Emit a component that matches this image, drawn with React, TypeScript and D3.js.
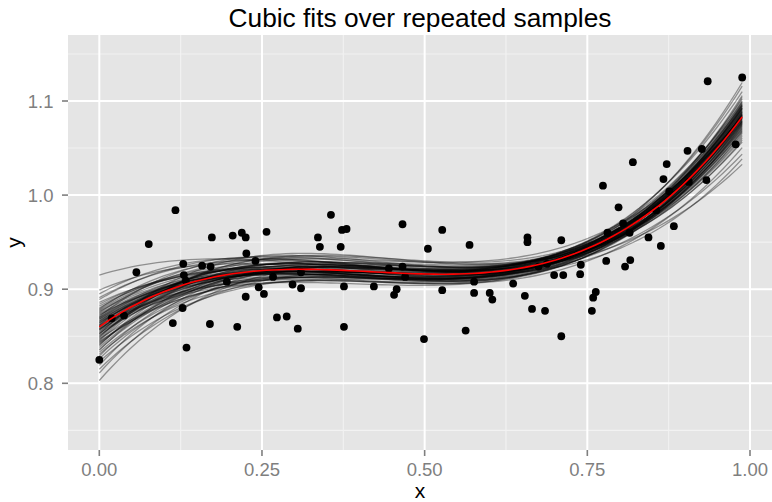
import React from "react";
import * as d3 from "d3";

// observed sample
const pointX = [0.000, 0.019, 0.038, 0.057, 0.076, 0.113, 0.117, 0.128, 0.129, 0.130, 0.133, 0.134, 0.158, 0.170, 0.171, 0.173, 0.196, 0.205, 0.212, 0.219, 0.225, 0.225, 0.226, 0.240, 0.245, 0.253, 0.257, 0.267, 0.273, 0.288, 0.297, 0.305, 0.310, 0.310, 0.336, 0.339, 0.356, 0.371, 0.373, 0.380, 0.376, 0.376, 0.422, 0.445, 0.453, 0.457, 0.466, 0.466, 0.470, 0.499, 0.505, 0.527, 0.527, 0.563, 0.569, 0.576, 0.576, 0.600, 0.604, 0.636, 0.654, 0.658, 0.658, 0.665, 0.675, 0.685, 0.688, 0.699, 0.710, 0.710, 0.713, 0.739, 0.740, 0.757, 0.759, 0.763, 0.774, 0.779, 0.781, 0.798, 0.805, 0.808, 0.815, 0.816, 0.820, 0.844, 0.856, 0.863, 0.867, 0.872, 0.876, 0.883, 0.904, 0.906, 0.926, 0.933, 0.935, 0.978, 0.988];
const pointY = [0.825, 0.869, 0.872, 0.918, 0.948, 0.864, 0.984, 0.880, 0.927, 0.915, 0.909, 0.838, 0.925, 0.863, 0.924, 0.955, 0.908, 0.957, 0.860, 0.960, 0.892, 0.955, 0.938, 0.930, 0.902, 0.895, 0.961, 0.913, 0.870, 0.871, 0.905, 0.858, 0.901, 0.918, 0.955, 0.945, 0.979, 0.945, 0.963, 0.964, 0.903, 0.860, 0.903, 0.922, 0.894, 0.900, 0.969, 0.924, 0.913, 0.847, 0.943, 0.899, 0.963, 0.856, 0.947, 0.908, 0.896, 0.896, 0.889, 0.906, 0.893, 0.955, 0.950, 0.879, 0.924, 0.877, 0.927, 0.915, 0.952, 0.850, 0.915, 0.916, 0.926, 0.877, 0.891, 0.897, 1.010, 0.930, 0.960, 0.987, 0.970, 0.924, 0.960, 0.931, 1.035, 0.955, 0.984, 0.946, 1.017, 1.033, 1.004, 0.967, 1.047, 1.014, 1.049, 1.016, 1.121, 1.054, 1.125];

// cubic curves, read at x = 0, 0.33, 0.66, 0.99
const knotX = [0, 0.33, 0.66, 0.99];
const redAt = [0.860, 0.921, 0.924, 1.085];
const fitAt000 = [0.842, 0.871, 0.855, 0.880, 0.833, 0.864, 0.851, 0.889, 0.847, 0.868, 0.826, 0.859, 0.874, 0.838, 0.862, 0.895, 0.853, 0.866, 0.811, 0.857, 0.878, 0.845, 0.869, 0.836, 0.861, 0.884, 0.849, 0.872, 0.829, 0.858, 0.915, 0.865, 0.843, 0.876, 0.852, 0.803, 0.867, 0.856, 0.882, 0.840, 0.863, 0.848, 0.873, 0.819, 0.860, 0.886, 0.854, 0.870, 0.835, 0.858, 0.899, 0.846, 0.864, 0.877, 0.831, 0.861, 0.850, 0.868, 0.841, 0.875, 0.857, 0.891, 0.823, 0.866, 0.853, 0.879, 0.844, 0.862, 0.815, 0.870];
const fitAt033 = [0.916, 0.935, 0.919, 0.926, 0.913, 0.923, 0.918, 0.933, 0.909, 0.921, 0.915, 0.927, 0.916, 0.924, 0.919, 0.930, 0.913, 0.919, 0.926, 0.907, 0.921, 0.929, 0.918, 0.923, 0.910, 0.921, 0.935, 0.916, 0.924, 0.919, 0.926, 0.912, 0.921, 0.918, 0.938, 0.923, 0.915, 0.927, 0.919, 0.929, 0.921, 0.932, 0.916, 0.924, 0.912, 0.921, 0.929, 0.918, 0.926, 0.913, 0.923, 0.936, 0.916, 0.924, 0.909, 0.919, 0.926, 0.915, 0.921, 0.933, 0.918, 0.929, 0.910, 0.923, 0.919, 0.930, 0.913, 0.927, 0.916, 0.924];
const fitAt066 = [0.922, 0.928, 0.922, 0.929, 0.916, 0.925, 0.929, 0.929, 0.918, 0.922, 0.921, 0.923, 0.921, 0.923, 0.927, 0.929, 0.921, 0.920, 0.929, 0.916, 0.917, 0.927, 0.923, 0.928, 0.913, 0.924, 0.930, 0.923, 0.925, 0.924, 0.922, 0.917, 0.930, 0.922, 0.931, 0.929, 0.920, 0.928, 0.916, 0.926, 0.927, 0.929, 0.923, 0.922, 0.919, 0.930, 0.930, 0.919, 0.926, 0.922, 0.920, 0.933, 0.919, 0.929, 0.915, 0.924, 0.929, 0.916, 0.923, 0.936, 0.922, 0.926, 0.920, 0.924, 0.924, 0.925, 0.923, 0.928, 0.919, 0.927];
const fitAt099 = [1.079, 1.092, 1.071, 1.098, 1.086, 1.064, 1.101, 1.083, 1.075, 1.090, 1.108, 1.081, 1.094, 1.068, 1.087, 1.112, 1.078, 1.096, 1.060, 1.085, 1.089, 1.073, 1.099, 1.082, 1.052, 1.091, 1.077, 1.104, 1.084, 1.066, 1.058, 1.093, 1.080, 1.087, 1.097, 1.070, 1.088, 1.118, 1.076, 1.095, 1.083, 1.102, 1.072, 1.089, 1.045, 1.086, 1.093, 1.079, 1.106, 1.084, 1.074, 1.090, 1.097, 1.081, 1.088, 1.062, 1.095, 1.077, 1.100, 1.086, 1.122, 1.080, 1.091, 1.034, 1.085, 1.098, 1.069, 1.087, 1.040, 1.094];

const xTicks = [0, 0.25, 0.5, 0.75, 1.0];
const xTickLabels = ["0.00", "0.25", "0.50", "0.75", "1.00"];
const xMinor = [0.125, 0.375, 0.625, 0.875];
const yTicks = [0.8, 0.9, 1.0, 1.1];
const yTickLabels = ["0.8", "0.9", "1.0", "1.1"];
const yMinor = [0.75, 0.85, 0.95, 1.05, 1.15];

const W = 772, H = 502;
const P = { left: 68, right: 772, top: 35, bottom: 450 };

function lagrange(kx: number[], ky: number[], x: number) {
  let s = 0;
  for (let i = 0; i < kx.length; i++) {
    let t = ky[i];
    for (let j = 0; j < kx.length; j++) if (j !== i) t *= (x - kx[j]) / (kx[i] - kx[j]);
    s += t;
  }
  return s;
}

export default function App() {
  const x = d3.scaleLinear().domain([0, 1]).range([99.3, 750]);
  const y = d3.scaleLinear().domain([0.8, 1.1]).range([383.3, 101]);
  const xMax = d3.max(pointX) as number;
  const grid = d3.range(0, 101).map((i) => (i / 100) * xMax);
  const line = d3.line<[number, number]>().x((d) => x(d[0])).y((d) => y(d[1]));
  const curve = (ky: number[]) => grid.map((t) => [t, lagrange(knotX, ky, t)] as [number, number]);

  const redPts = curve(redAt);
  const fits = fitAt000.map((_, i) => curve([fitAt000[i], fitAt033[i], fitAt066[i], fitAt099[i]]));

  const font = "'Liberation Sans', Arial, Helvetica, sans-serif";
  return (
    <svg width={W} height={H} style={{ position: "absolute", left: 0, top: 0, background: "#fff" }} fontFamily={font}>
      <defs>
        <clipPath id="panel"><rect x={P.left} y={P.top} width={P.right - P.left} height={P.bottom - P.top} /></clipPath>
      </defs>
      <rect x={P.left} y={P.top} width={P.right - P.left} height={P.bottom - P.top} fill="#E5E5E5" />
      <g clipPath="url(#panel)">
        {yMinor.map((v) => <line key={"ym" + v} x1={P.left} x2={P.right} y1={y(v)} y2={y(v)} stroke="#F2F2F2" strokeWidth={1.1} />)}
        {xMinor.map((v) => <line key={"xm" + v} y1={P.top} y2={P.bottom} x1={x(v)} x2={x(v)} stroke="#F2F2F2" strokeWidth={1.1} />)}
        {yTicks.map((v) => <line key={"yM" + v} x1={P.left} x2={P.right} y1={y(v)} y2={y(v)} stroke="#FFFFFF" strokeWidth={2} />)}
        {xTicks.map((v) => <line key={"xM" + v} y1={P.top} y2={P.bottom} x1={x(v)} x2={x(v)} stroke="#FFFFFF" strokeWidth={2} />)}
        {pointX.map((px, i) => <circle key={"p" + i} cx={x(px)} cy={y(pointY[i])} r={3.9} fill="#000" />)}
        {fits.map((f, i) => <path key={"f" + i} d={line(f) || ""} fill="none" stroke="#000" strokeOpacity={0.38} strokeWidth={1.3} />)}
        <path d={line(redPts) || ""} fill="none" stroke="#FF0000" strokeWidth={1.6} />
      </g>
      {xTicks.map((v, i) => (
        <g key={"xt" + v}>
          <line x1={x(v)} x2={x(v)} y1={P.bottom} y2={P.bottom + 6} stroke="#7F7F7F" strokeWidth={1.6} />
          <text x={x(v)} y={476} textAnchor="middle" fontSize={18.5} fill="#7F7F7F">{xTickLabels[i]}</text>
        </g>
      ))}
      {yTicks.map((v, i) => (
        <g key={"yt" + v}>
          <line x1={P.left - 6} x2={P.left} y1={y(v)} y2={y(v)} stroke="#7F7F7F" strokeWidth={1.6} />
          <text x={53.5} y={y(v) + 6.6} textAnchor="end" fontSize={18.5} fill="#7F7F7F">{yTickLabels[i]}</text>
        </g>
      ))}
      <text x={(P.left + P.right) / 2} y={497.5} textAnchor="middle" fontSize={21} fill="#000">x</text>
      <text transform={`translate(20.5, ${(P.top + P.bottom) / 2}) rotate(-90)`} textAnchor="middle" fontSize={21} fill="#000">y</text>
      <text x={(P.left + P.right) / 2} y={27} textAnchor="middle" fontSize={26.3} fill="#000">Cubic fits over repeated samples</text>
    </svg>
  );
}
